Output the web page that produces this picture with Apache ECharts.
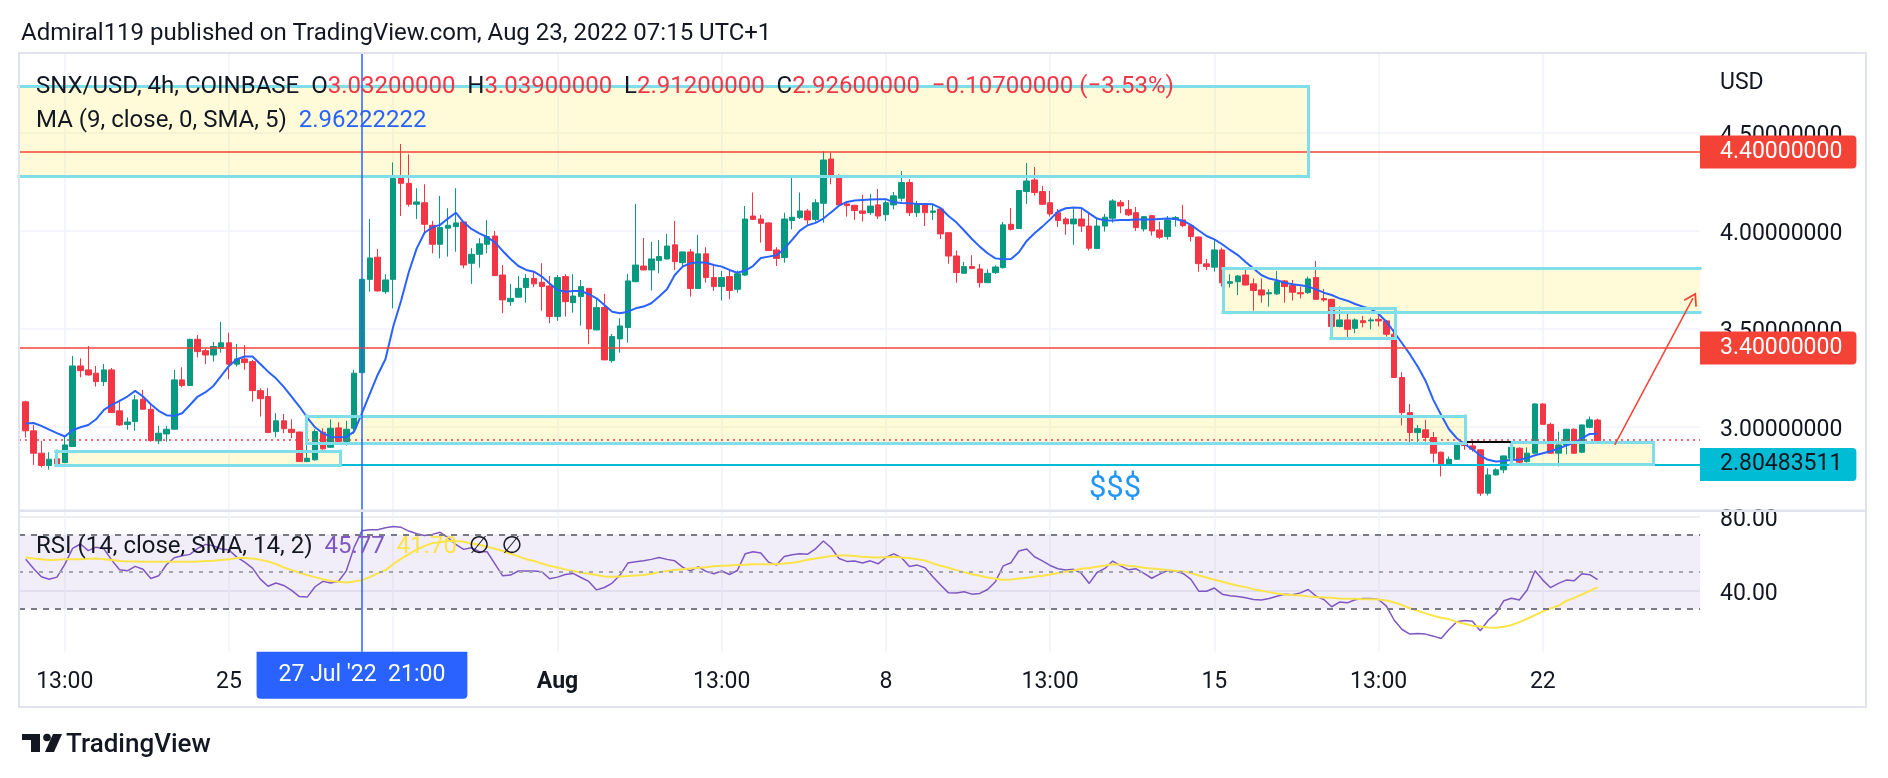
<!DOCTYPE html>
<html>
<head>
<meta charset="utf-8">
<title>SNX/USD 4h</title>
<script src="https://cdn.jsdelivr.net/npm/echarts@6/dist/echarts.min.js"></script>
<style>
  html, body { margin: 0; padding: 0; background: #ffffff; }
  #main { width: 1888px; height: 778px; }
</style>
</head>
<body>
<div id="main"></div>
<script>
// 4h candles, index 0 = 20 Jul 17:00 (UTC+1), last = 23 Aug 05:00
var opens = [3.125,2.977,2.863,2.800,2.834,2.815,2.897,3.308,3.288,3.271,
3.228,3.288,3.079,3.009,3.024,3.138,3.087,2.926,2.961,2.985,
3.237,3.208,3.444,3.386,3.364,3.398,3.426,3.317,3.344,3.330,
3.182,3.152,2.973,3.028,2.985,2.971,2.820,2.829,2.970,2.893,
2.992,2.922,2.990,3.274,3.750,3.863,3.687,3.750,4.278,4.240,
4.133,4.141,4.026,3.929,4.011,4.019,4.043,3.832,3.878,3.929,
3.971,3.772,3.636,3.659,3.708,3.755,3.735,3.716,3.560,3.764,
3.631,3.662,3.704,3.492,3.607,3.335,3.446,3.504,3.738,3.818,
3.798,3.846,3.854,3.926,3.835,3.890,3.703,3.880,3.759,3.713,
3.764,3.699,3.772,4.073,4.058,4.038,3.900,3.861,4.050,4.065,
4.099,4.056,4.138,4.364,4.271,4.135,4.128,4.099,4.090,4.130,
4.080,4.130,4.164,4.244,4.090,4.130,4.092,4.109,3.988,3.869,
3.781,3.815,3.803,3.733,3.784,3.810,4.031,4.009,4.198,4.257,
4.198,4.141,4.090,4.058,4.033,4.058,4.022,3.907,4.022,4.062,
4.143,4.107,4.090,4.007,4.075,4.002,3.968,4.056,4.053,4.024,
3.966,3.829,3.812,3.900,3.730,3.738,3.772,3.727,3.696,3.676,
3.676,3.742,3.718,3.682,3.682,3.759,3.652,3.648,3.509,3.543,
3.500,3.539,3.538,3.546,3.538,3.470,3.249,3.070,2.968,2.982,
2.943,2.868,2.803,2.832,2.910,2.900,2.880,2.659,2.752,2.778,
2.837,2.888,2.820,2.863,3.114,3.010,2.863,2.905,2.985,2.868,
2.995,3.032];
var highs = [3.130,3.007,2.926,2.868,2.880,2.953,3.359,3.347,3.410,3.308,
3.318,3.298,3.135,3.045,3.160,3.186,3.113,3.002,3.002,3.288,
3.301,3.446,3.466,3.398,3.431,3.533,3.478,3.420,3.414,3.339,
3.194,3.194,3.067,3.063,3.036,2.973,2.951,2.985,2.990,3.036,
3.021,3.028,3.288,3.752,4.058,3.905,3.776,4.347,4.441,4.388,
4.215,4.235,4.048,4.176,4.113,4.215,4.045,3.909,3.960,4.053,
3.997,3.823,3.727,3.767,3.776,3.789,3.832,3.767,3.772,3.776,
3.776,3.747,3.706,3.648,3.676,3.471,3.551,3.778,4.135,3.961,
3.941,3.951,3.982,4.048,3.892,3.905,3.977,3.914,3.818,3.793,
3.793,3.795,4.124,4.193,4.079,4.040,3.914,4.090,4.269,4.193,
4.109,4.159,4.405,4.397,4.286,4.150,4.130,4.181,4.186,4.211,
4.152,4.196,4.303,4.261,4.150,4.132,4.130,4.116,3.990,3.897,
3.839,3.873,3.829,3.801,3.822,4.043,4.114,4.206,4.344,4.323,
4.227,4.201,4.109,4.067,4.113,4.113,4.087,4.062,4.084,4.159,
4.155,4.155,4.119,4.073,4.079,4.045,4.073,4.073,4.130,4.026,
3.968,3.854,3.951,3.912,3.776,3.772,3.803,3.755,3.755,3.699,
3.793,3.747,3.747,3.713,3.764,3.844,3.701,3.650,3.611,3.580,
3.551,3.563,3.555,3.577,3.543,3.495,3.276,3.114,3.007,3.033,
2.971,2.871,2.846,2.917,2.917,2.922,2.882,2.786,2.786,2.851,
2.900,2.893,2.893,3.118,3.118,3.019,2.973,2.987,2.990,3.009,
3.050,3.039];
var lows = [2.943,2.803,2.790,2.779,2.800,2.812,2.895,3.250,3.259,3.203,
3.206,3.068,3.002,2.982,2.978,3.084,2.922,2.909,2.922,2.983,
3.199,3.206,3.351,3.317,3.330,3.376,3.240,3.305,3.288,3.126,
3.050,2.966,2.944,2.965,2.939,2.818,2.818,2.825,2.880,2.892,
2.917,2.902,2.961,3.272,3.687,3.687,3.676,3.602,4.073,4.121,
4.058,3.980,3.883,3.857,3.866,3.891,3.806,3.727,3.810,3.883,
3.767,3.577,3.614,3.657,3.631,3.710,3.590,3.526,3.538,3.560,
3.580,3.514,3.419,3.490,3.337,3.325,3.376,3.427,3.736,3.796,
3.693,3.781,3.852,3.798,3.812,3.662,3.701,3.733,3.691,3.642,
3.648,3.682,3.767,4.054,3.937,3.895,3.818,3.835,4.005,4.058,
4.028,4.045,4.039,4.235,4.121,4.070,4.053,4.045,4.079,4.058,
4.048,4.107,4.147,4.073,4.068,4.022,4.053,3.956,3.829,3.733,
3.779,3.804,3.708,3.731,3.778,3.805,3.999,4.007,4.135,4.177,
4.130,4.070,4.017,3.977,3.926,3.992,3.897,3.905,3.994,4.039,
4.087,4.073,3.997,3.994,3.973,3.956,3.953,4.019,4.016,3.943,
3.789,3.798,3.789,3.713,3.708,3.670,3.719,3.590,3.631,3.611,
3.670,3.631,3.642,3.653,3.676,3.646,3.636,3.458,3.505,3.441,
3.475,3.505,3.495,3.509,3.458,3.247,3.004,2.917,2.914,2.922,
2.815,2.744,2.801,2.829,2.880,2.871,2.645,2.647,2.749,2.761,
2.829,2.808,2.815,2.861,3.008,2.859,2.795,2.858,2.859,2.863,
2.990,2.912];
var closes = [2.977,2.863,2.800,2.832,2.808,2.905,3.308,3.284,3.262,3.228,
3.288,3.070,3.007,3.022,3.135,3.087,2.927,2.965,2.985,3.237,
3.208,3.444,3.381,3.364,3.407,3.426,3.317,3.344,3.325,3.182,
3.141,2.968,3.028,2.988,2.968,2.820,2.837,2.973,2.885,2.990,
2.922,2.985,3.271,3.750,3.859,3.691,3.747,4.266,4.240,4.133,
4.145,4.031,3.929,4.014,4.026,4.038,3.823,3.878,3.931,3.968,
3.769,3.645,3.653,3.704,3.755,3.727,3.713,3.560,3.759,3.636,
3.665,3.713,3.497,3.606,3.339,3.458,3.512,3.742,3.823,3.798,
3.854,3.866,3.920,3.840,3.890,3.703,3.880,3.759,3.713,3.759,
3.693,3.778,4.058,4.056,4.036,3.897,3.857,4.058,4.067,4.099,
4.053,4.141,4.359,4.271,4.130,4.126,4.101,4.087,4.124,4.073,
4.141,4.176,4.244,4.090,4.130,4.090,4.099,3.982,3.869,3.784,
3.815,3.806,3.733,3.781,3.813,4.028,4.005,4.203,4.252,4.193,
4.133,4.084,4.050,4.033,4.058,4.022,3.909,4.022,4.067,4.150,
4.124,4.079,4.014,4.070,3.997,3.965,4.053,4.065,4.024,3.968,
3.830,3.815,3.900,3.733,3.738,3.767,3.721,3.693,3.670,3.682,
3.738,3.713,3.684,3.676,3.752,3.648,3.645,3.509,3.543,3.495,
3.543,3.529,3.543,3.538,3.470,3.249,3.070,2.968,2.988,2.943,
2.863,2.803,2.832,2.909,2.902,2.883,2.659,2.752,2.778,2.849,
2.893,2.817,2.863,3.114,3.010,2.863,2.905,2.985,2.863,3.007,
3.033,2.926];
// MA (9, close) as drawn
var maValues = [3.014,3.017,3.002,2.983,2.965,2.948,2.980,2.995,3.007,3.036,
3.084,3.109,3.130,3.152,3.181,3.152,3.113,3.079,3.057,3.053,
3.067,3.109,3.152,3.174,3.206,3.257,3.308,3.342,3.356,3.356,
3.318,3.279,3.245,3.201,3.152,3.101,3.045,2.995,2.965,2.946,
2.944,2.946,2.973,3.067,3.165,3.262,3.342,3.509,3.641,3.789,
3.908,3.988,4.016,4.028,4.060,4.090,4.041,4.007,3.985,3.966,
3.939,3.895,3.854,3.818,3.798,3.789,3.764,3.729,3.696,3.687,
3.691,3.691,3.674,3.653,3.619,3.585,3.577,3.585,3.602,3.611,
3.628,3.662,3.699,3.772,3.815,3.832,3.837,3.835,3.823,3.815,
3.798,3.784,3.795,3.818,3.859,3.866,3.873,3.905,3.951,3.999,
4.026,4.038,4.060,4.092,4.126,4.145,4.152,4.155,4.157,4.159,
4.159,4.143,4.140,4.138,4.135,4.135,4.133,4.113,4.073,4.041,
3.999,3.956,3.917,3.883,3.857,3.852,3.854,3.888,3.946,3.985,
4.019,4.056,4.096,4.113,4.116,4.114,4.087,4.060,4.050,4.050,
4.053,4.053,4.055,4.056,4.056,4.058,4.060,4.058,4.048,4.028,
3.999,3.971,3.954,3.929,3.900,3.874,3.839,3.805,3.772,3.754,
3.745,3.733,3.725,3.720,3.713,3.699,3.682,3.670,3.653,3.641,
3.624,3.611,3.599,3.573,3.534,3.480,3.424,3.368,3.305,3.233,
3.135,3.058,2.985,2.939,2.909,2.883,2.851,2.829,2.820,2.823,
2.829,2.829,2.839,2.852,2.863,2.873,2.886,2.902,2.917,2.939,
2.961,2.96222222];
// RSI (14) and its SMA (14)
var rsiValues = [56.8,51.8,47.3,46.0,47.1,54.0,62.6,65.0,61.4,63.3,
62.4,56.3,51.1,50.5,52.9,51.4,46.4,47.8,53.8,57.6,
58.6,59.4,62.6,64.8,64.0,62.3,61.7,57.9,55.2,52.0,
46.0,42.2,43.9,42.6,39.9,36.6,36.3,41.9,44.8,43.9,
44.9,50.5,63.2,72.2,72.7,72.7,73.8,74.5,74.0,72.0,
70.5,69.6,70.2,71.3,68.4,64.8,62.1,63.0,60.8,60.8,
54.3,47.8,48.2,50.4,50.4,50.4,50.0,46.2,47.1,48.5,
49.1,46.9,44.8,40.2,41.5,43.9,48.2,54.7,55.4,55.9,
56.7,57.7,56.7,55.9,52.5,50.5,52.7,50.2,48.9,50.4,
48.5,50.7,59.7,60.8,60.1,55.2,53.6,58.3,59.2,59.7,
59.5,62.4,66.6,63.0,57.2,55.6,55.8,54.7,55.9,54.3,
57.7,59.7,57.6,52.9,53.6,52.2,47.3,42.8,38.6,38.5,
39.2,37.9,38.3,40.4,44.6,53.2,54.9,61.2,62.3,58.1,
55.9,53.4,51.6,50.9,51.3,49.1,43.7,49.6,51.8,55.8,
53.2,51.1,51.6,49.1,46.5,48.7,50.7,50.4,49.1,45.9,
39.5,39.5,41.2,37.9,37.0,36.6,35.9,35.0,34.7,35.6,
36.8,37.9,37.6,38.6,40.4,36.8,35.0,31.1,33.6,33.2,
34.9,35.6,35.6,35.0,31.4,23.8,18.8,16.3,16.7,16.3,
15.2,13.9,18.8,23.0,23.7,23.2,18.1,23.7,27.5,34.3,
35.7,34.7,40.1,50.5,45.5,41.4,43.7,45.5,45.1,48.9,
48.4,45.77];
var rsiMaValues = [57.7,57.2,56.8,56.3,56.5,56.7,56.7,56.8,57.0,57.2,
56.8,56.3,55.8,55.6,55.6,55.4,55.4,55.4,55.4,55.4,
55.4,55.4,55.6,55.8,55.9,56.3,56.7,57.4,57.4,57.2,
56.5,55.6,54.2,52.3,50.9,49.5,48.2,47.1,46.0,45.0,
44.6,44.2,44.8,45.5,47.1,49.1,50.9,54.2,57.0,59.5,
62.1,63.9,65.5,66.0,66.8,66.6,66.2,65.3,64.6,63.5,
62.4,61.2,59.7,58.3,56.8,55.8,54.5,53.2,52.3,51.3,
50.4,49.6,48.9,48.2,47.5,47.3,47.5,47.7,48.0,48.2,
48.9,49.8,50.4,50.9,51.4,51.8,52.2,52.5,53.0,53.2,
53.4,53.6,53.8,54.0,54.0,54.0,54.2,54.5,54.9,55.6,
56.5,57.2,57.9,58.5,58.8,58.8,58.5,58.1,57.9,57.7,
57.9,58.1,57.7,57.4,56.8,56.1,54.5,53.2,52.2,50.9,
49.8,48.7,47.8,46.9,46.2,45.7,45.8,46.4,46.7,47.3,
47.8,48.5,49.3,50.0,50.7,51.6,52.0,52.7,53.4,54.1,
53.8,53.2,52.9,52.2,51.8,51.4,50.9,50.5,50.2,49.3,
48.0,46.9,45.7,44.6,43.5,42.4,41.7,40.6,39.7,39.0,
38.3,37.7,37.4,37.2,36.7,36.3,36.1,35.9,35.6,35.4,
35.4,35.2,35.2,35.0,34.5,33.4,32.0,30.3,28.9,27.5,
26.2,25.1,24.4,22.8,21.9,20.8,20.4,19.9,19.7,20.3,
21.2,22.8,24.6,26.6,28.6,30.2,31.6,34.3,35.9,37.7,
39.7,41.70];

// time axis: grid positions (candle index) and their labels
var timeTickIdx = [5, 26, 47, 68, 89, 110, 131, 152, 173, 194];
var timeTickText = ['13:00', '25', '', 'Aug', '13:00', '8', '13:00', '15', '13:00', '22'];
var priceTicks = [3.0, 3.5, 4.0, 4.5];
var rsiTicks = [40, 80];

// drawings: [x0, price0, x1, price1] in candle index / price
var zones = [
  [-3, 4.733, 164.0, 4.274],
  [3.85, 2.874, 40.2, 2.800],
  [35.9, 3.053, 184.1, 2.912],
  [153.1, 3.805, 222, 3.580],
  [166.9, 3.601, 175.1, 3.448],
  [189.9, 2.917, 208.1, 2.806]
];
var resistance = [4.4, 3.4];
var supportLevel = 2.80483511;
var supportFrom = 32;
var blackSeg = [184.3, 2.920, 189.9, 2.920];
var arrowSeg = [203.2, 2.905, 213.2, 3.654];
var crossIdx = 43;
var crossText = "27 Jul '22  21:00";
var dollarAt = [139.3, 2.681];

var X_MIN = -0.857, X_MAX = 214.1;
var FONT = 'Roboto, "DejaVu Sans", sans-serif';
var INK = '#131722';
var GRID_C = '#f0f3fa';
var UP = '#089981', DOWN = '#f23645', LINE_RED = '#f44336';
var ZONE_EDGE = '#80deea';

var last = closes.length - 1;
var candles = opens.map(function (o, i) { return [i, o, closes[i], lows[i], highs[i]]; });
var maLine = maValues.map(function (v, i) { return [i, v]; });
var rsiLine = rsiValues.map(function (v, i) { return [i, v]; });
var rsiMaLine = rsiMaValues.map(function (v, i) { return [i, v]; });

function fmt8(v) { return v.toFixed(8); }
function signed(v, d) { return (v < 0 ? '\u2212' : '+') + Math.abs(v).toFixed(d); }
var chg = closes[last] - closes[last - 1];
var pct = chg / closes[last - 1] * 100;

var headText = '{k|SNX/USD, 4h, COINBASE  O}{v|' + fmt8(opens[last]) +
  '}{k|  H}{v|' + fmt8(highs[last]) + '}{k|  L}{v|' + fmt8(lows[last]) +
  '}{k|  C}{v|' + fmt8(closes[last]) + '}{v|  ' + signed(chg, 8) + ' (' + signed(pct, 2) + '%)}';
var maText = '{k|MA (9, close, 0, SMA, 5)  }{m|' + fmt8(maValues[last]) + '}';
var rsiText = '{k|RSI (14, close, SMA, 14, 2)  }{r|' + rsiValues[last].toFixed(2) +
  '}{k|  }{y|' + rsiMaValues[last].toFixed(2) + '}{k|  \u2205  \u2205}';

function tok(color) { return { fontSize: 24, fontWeight: 'normal', color: color, fontFamily: FONT }; }
// axis label token, nudged a little lower than the tick
var axisTok = { p: { fontSize: 23, color: INK, fontFamily: FONT, padding: [7, 0, 0, 0] } };

// zone fills (clamped to the visible range) and their visible edges
var zoneFill = zones.map(function (z) {
  return [{ coord: [Math.max(z[0], X_MIN), z[1]] }, { coord: [Math.min(z[2], X_MAX), z[3]] }];
});
var edgeStyle = { color: ZONE_EDGE, width: 3, type: 'solid', cap: 'square' };
var zoneEdges = [];
zones.forEach(function (z) {
  var a = Math.max(z[0], X_MIN), b = Math.min(z[2], X_MAX);
  zoneEdges.push([{ coord: [a, z[1]], lineStyle: edgeStyle }, { coord: [b, z[1]] }]);
  zoneEdges.push([{ coord: [a, z[3]], lineStyle: edgeStyle }, { coord: [b, z[3]] }]);
  if (z[0] >= X_MIN) zoneEdges.push([{ coord: [z[0], z[1]], lineStyle: edgeStyle }, { coord: [z[0], z[3]] }]);
  if (z[2] <= X_MAX) zoneEdges.push([{ coord: [z[2], z[1]], lineStyle: edgeStyle }, { coord: [z[2], z[3]] }]);
});

function priceBox(text, bg, fg) {
  return {
    show: true, position: 'end', distance: 0, formatter: text,
    backgroundColor: bg, color: fg, fontSize: 23, fontFamily: FONT,
    padding: [5, 14, 5, 20], borderRadius: [0, 4, 4, 0]
  };
}

var priceLines = resistance.map(function (p) {
  return { yAxis: p, lineStyle: { color: LINE_RED, width: 1.5, type: 'solid' }, label: priceBox(fmt8(p), LINE_RED, '#ffffff') };
});
priceLines.push({ yAxis: closes[last], lineStyle: { color: DOWN, width: 1.5, type: [2, 4] } });
priceLines.push([
  { coord: [supportFrom, supportLevel], lineStyle: { color: '#00bcd4', width: 2, type: 'solid' } },
  { coord: [X_MAX, supportLevel], label: priceBox(fmt8(supportLevel), '#00bcd4', INK) }
]);
priceLines = priceLines.concat(zoneEdges);
priceLines.push([
  { coord: [blackSeg[0], blackSeg[1]], lineStyle: { color: '#000000', width: 2, type: 'solid' } },
  { coord: [blackSeg[2], blackSeg[3]] }
]);
priceLines.push([
  { coord: [arrowSeg[0], arrowSeg[1]], symbol: 'none', lineStyle: { color: LINE_RED, width: 1.5, type: 'solid' } },
  { coord: [arrowSeg[2], arrowSeg[3]], symbol: 'path://M7,0 L14,12 L12.6,13 L7,3.4 L1.4,13 L0,12 Z', symbolSize: [15, 13] }
]);
priceLines.push({ xAxis: crossIdx, lineStyle: { color: '#2962ff', width: 1.5, type: 'solid' } });

var option = {
  animation: false,
  backgroundColor: '#ffffff',
  textStyle: { fontFamily: FONT },
  title: [
    { text: 'Admiral119 published on TradingView.com, Aug 23, 2022 07:15 UTC+1', left: 21, top: 22, padding: 0,
      textStyle: { fontSize: 24, fontWeight: 'normal', color: INK, fontFamily: FONT } },
    { text: headText, left: 36, top: 75, padding: 0,
      textStyle: { fontSize: 24, fontWeight: 'normal', fontFamily: FONT, rich: { k: tok(INK), v: tok(DOWN) } } },
    { text: maText, left: 36, top: 109, padding: 0,
      textStyle: { fontSize: 24, fontWeight: 'normal', fontFamily: FONT, rich: { k: tok(INK), m: tok('#2962ff') } } },
    { text: rsiText, left: 36, top: 535, padding: 0,
      textStyle: { fontSize: 24, fontWeight: 'normal', fontFamily: FONT,
        rich: { k: tok(INK), r: tok('#7e57c2'), y: tok('#fbe34a') } } },
    { text: 'USD', left: 1720, top: 72, padding: 0,
      textStyle: { fontSize: 23, fontWeight: 'normal', color: INK, fontFamily: FONT } }
  ],
  grid: [
    { left: 19, top: 53, width: 1681, height: 457 },
    { left: 19, top: 510.7, width: 1681, height: 141 }
  ],
  xAxis: [
    { type: 'value', gridIndex: 0, min: X_MIN, max: X_MAX,
      axisLine: { show: false }, axisTick: { show: false, customValues: timeTickIdx },
      axisLabel: { show: false },
      splitLine: { show: true, lineStyle: { color: GRID_C, width: 1.5 } } },
    { type: 'value', gridIndex: 1, min: X_MIN, max: X_MAX,
      axisLine: { show: false }, axisTick: { show: false, customValues: timeTickIdx },
      axisLabel: {
        show: true, margin: 19.5, fontSize: 23, color: INK, fontFamily: FONT,
        customValues: timeTickIdx.filter(function (v, k) { return timeTickText[k] !== ''; }),
        formatter: function (v) {
          var t = timeTickText[timeTickIdx.indexOf(Math.round(v))] || '';
          return t === 'Aug' ? '{b|Aug}' : t;
        },
        rich: { b: { fontSize: 23, fontWeight: 'bold', color: INK, fontFamily: FONT } }
      },
      splitLine: { show: true, lineStyle: { color: GRID_C, width: 1.5 } } }
  ],
  yAxis: [
    { type: 'value', gridIndex: 0, position: 'right', min: 2.573, max: 4.905,
      axisLine: { show: false }, axisTick: { show: false, customValues: priceTicks },
      axisLabel: { customValues: priceTicks, margin: 20,
        formatter: function (v) { return '{p|' + fmt8(v) + '}'; }, rich: axisTok },
      splitLine: { show: true, lineStyle: { color: GRID_C, width: 1.5 } } },
    { type: 'value', gridIndex: 1, position: 'right', min: 6.8, max: 83,
      axisLine: { show: false }, axisTick: { show: false, customValues: rsiTicks },
      axisLabel: { customValues: rsiTicks, margin: 20,
        formatter: function (v) { return '{p|' + v.toFixed(2) + '}'; }, rich: axisTok },
      splitLine: { show: true, lineStyle: { color: '#e6e8ee', width: 1.5 } } }
  ],
  series: [
    {
      name: 'SNX/USD', type: 'candlestick', xAxisIndex: 0, yAxisIndex: 0,
      data: candles, encode: { x: 0, y: [1, 2, 3, 4] },
      barWidth: 6,
      itemStyle: { color: UP, color0: DOWN, borderColor: UP, borderColor0: DOWN, borderWidth: 1 },
      markArea: {
        silent: true,
        label: { show: false },
        itemStyle: { color: 'rgba(255, 235, 59, 0.2)', borderWidth: 0 },
        data: zoneFill
      },
      markLine: {
        silent: true, symbol: ['none', 'none'],
        label: { show: false },
        data: priceLines
      },
      markPoint: {
        silent: true,
        data: [{ coord: dollarAt, symbol: 'rect', symbolSize: 1, itemStyle: { color: 'rgba(0,0,0,0)' },
          label: { show: true, position: 'inside', formatter: '$$$', color: '#2196f3', fontSize: 31, fontFamily: FONT } }]
      }
    },
    {
      name: 'MA', type: 'line', xAxisIndex: 0, yAxisIndex: 0, data: maLine,
      showSymbol: false, lineStyle: { color: '#2962ff', width: 2 }, z: 3
    },
    {
      name: 'RSI', type: 'line', xAxisIndex: 1, yAxisIndex: 1, data: rsiLine,
      showSymbol: false, lineStyle: { color: '#7e57c2', width: 1.5 },
      markArea: {
        silent: true, label: { show: false },
        itemStyle: { color: 'rgba(126, 87, 194, 0.1)' },
        data: [[{ coord: [X_MIN, 70] }, { coord: [X_MAX, 30] }]]
      },
      markLine: {
        silent: true, symbol: ['none', 'none'], label: { show: false },
        data: [
          { yAxis: 70, lineStyle: { color: '#787b86', width: 2, type: [6, 6] } },
          { yAxis: 50, lineStyle: { color: '#a3a6af', width: 2, type: [4, 6] } },
          { yAxis: 30, lineStyle: { color: '#787b86', width: 2, type: [6, 6] } },
          [
            { coord: [crossIdx, 6.8], lineStyle: { color: '#2962ff', width: 1.5, type: 'solid' },
              label: { show: true, position: 'start', distance: 0, formatter: crossText,
                backgroundColor: '#2962ff', color: '#ffffff', fontSize: 23, fontFamily: FONT,
                padding: [12, 22, 12, 22], borderRadius: [0, 0, 4, 4] } },
            { coord: [crossIdx, 83] }
          ]
        ]
      }
    },
    {
      name: 'RSI MA', type: 'line', xAxisIndex: 1, yAxisIndex: 1, data: rsiMaLine,
      showSymbol: false, lineStyle: { color: '#fbe34a', width: 2 }
    }
  ],
  graphic: [
    { type: 'rect', shape: { x: 19, y: 53, width: 1847, height: 654 }, style: { fill: 'none', stroke: '#e0e3eb', lineWidth: 2 }, z: 100 },
    { type: 'line', shape: { x1: 19, y1: 510.7, x2: 1866, y2: 510.7 }, style: { stroke: '#e0e3eb', lineWidth: 2.5 }, z: 100 },
    { type: 'rect', shape: { x: 22, y: 734, width: 18, height: 6 }, style: { fill: INK } },
    { type: 'rect', shape: { x: 31, y: 734, width: 9, height: 18 }, style: { fill: INK } },
    { type: 'circle', shape: { cx: 47, cy: 737.5, r: 3.8 }, style: { fill: INK } },
    { type: 'polygon', shape: { points: [[53, 734], [62, 734], [54, 752], [45, 752]] }, style: { fill: INK } },
    { type: 'text', x: 66, y: 745, style: { text: 'TradingView', fontSize: 26, fontWeight: 500, fontFamily: FONT, fill: INK, verticalAlign: 'middle' } }
  ]
};

var myChart = echarts.init(document.getElementById('main'));
myChart.setOption(option);
</script>
</body>
</html>
